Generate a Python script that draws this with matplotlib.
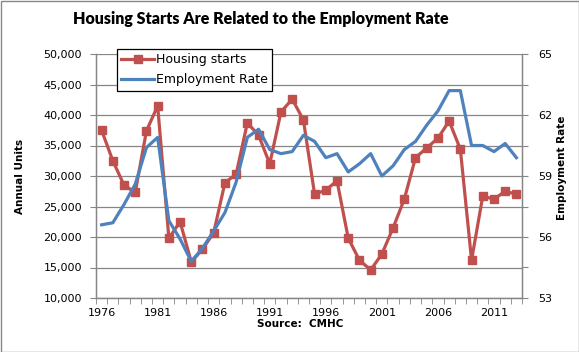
import matplotlib
matplotlib.use("Agg")
import matplotlib.pyplot as plt
from matplotlib.ticker import FuncFormatter, FixedLocator
from matplotlib.patches import Rectangle

years = list(range(1976, 2014))
housing_starts = [37500, 32500, 28500, 27300, 37400, 41500, 19800, 22500, 15900, 18000,
                  20700, 28900, 30300, 38700, 36700, 32000, 40500, 42600, 39200, 27000,
                  27700, 29200, 19800, 16200, 14600, 17200, 21500, 26200, 33000, 34600,
                  36200, 39000, 34400, 16200, 26700, 26200, 27500, 27000]
employment_rate = [56.6, 56.7, 57.6, 58.6, 60.4, 60.9, 56.8, 55.9, 54.8, 55.45,
                   56.3, 57.2, 58.7, 60.9, 61.3, 60.3, 60.1, 60.2, 61.0, 60.7,
                   59.9, 60.1, 59.2, 59.6, 60.1, 59.0, 59.5, 60.3, 60.7, 61.5,
                   62.2, 63.2, 63.2, 60.5, 60.5, 60.2, 60.6, 59.9]
x_labels = [1976, 1981, 1986, 1991, 1996, 2001, 2006, 2011]

red = "#C0504D"
blue = "#4F81BD"
grid = "#868686"

fig = plt.figure(figsize=(5.79, 3.52), dpi=100)
ax = fig.add_axes([96/579, 1-298/352, (522-96)/579, (298-54)/352])
ax2 = ax.twinx()

ax.set_xlim(1975.5, 2013.5)
ax.set_ylim(10000, 50000)
ax2.set_ylim(53, 65)

ax.set_yticks(range(10000, 50001, 5000))
ax.yaxis.set_major_formatter(FuncFormatter(lambda v, p: f"{int(v):,}"))
ax.yaxis.grid(True, color=grid, linewidth=0.9)
ax.set_axisbelow(True)

ax2.set_yticks([53 + 1.5*i for i in range(9)])
ax2.yaxis.set_major_formatter(FuncFormatter(lambda v, p: f"{int(v)}" if abs(v - round(v)) < 1e-6 else ""))

ax.xaxis.set_major_locator(FixedLocator(x_labels))
ax.xaxis.set_minor_locator(FixedLocator([y - 0.5 for y in years] + [2013.5]))
ax.tick_params(axis="x", which="major", length=0, pad=7, labelsize=8)
ax.tick_params(axis="x", which="minor", length=4, color=grid, direction="out")
ax.tick_params(axis="y", length=4, color=grid, labelsize=8, pad=6)
ax2.tick_params(axis="y", length=4, color=grid, labelsize=8, pad=8)

for a in (ax, ax2):
    a.spines["top"].set_visible(False)
    for s in ("left", "right", "bottom"):
        a.spines[s].set_color(grid)
        a.spines[s].set_linewidth(0.9)

ax.plot(years, housing_starts, color=red, lw=2.3, marker="s", markersize=6)
ax2.plot(years, employment_rate, color=blue, lw=2.3)
h1, = ax2.plot([], [], color=red, lw=2.3, marker="s", markersize=6, label="Housing starts")
h2, = ax2.plot([], [], color=blue, lw=2.3, label="Employment Rate")

leg = ax2.legend(handles=[h1, h2], loc="upper left", bbox_to_anchor=((117-96)/426, (298-49)/244),
                 frameon=True, fancybox=False, edgecolor="black", framealpha=1,
                 fontsize=9, handlelength=2.6, borderpad=0.35, labelspacing=0.55,
                 handletextpad=0.15, borderaxespad=0)
leg.get_frame().set_linewidth(0.9)

fig.text(0.45, 1-19/352, "Housing Starts Are Related to the Employment Rate",
         ha="center", va="center", fontsize=11.5, fontweight="heavy", family="Lato")
fig.text(20/579, 1-176/352, "Annual Units", rotation=90, ha="center", va="center",
         fontsize=7.5, fontweight="bold")
fig.text(562/579, 1-168/352, "Employment Rate", rotation=90, ha="center", va="center",
         fontsize=7.5, fontweight="bold")
fig.text(300/579, 1-324/352, "Source:  CMHC", ha="center", va="center",
         fontsize=7.5, fontweight="bold")

fig.patches.append(Rectangle((0.5/579, 0.5/352), 1-1/579, 1-1/352, transform=fig.transFigure,
                             fill=False, edgecolor="#888888", linewidth=1))

fig.savefig("out.png", dpi=100)
